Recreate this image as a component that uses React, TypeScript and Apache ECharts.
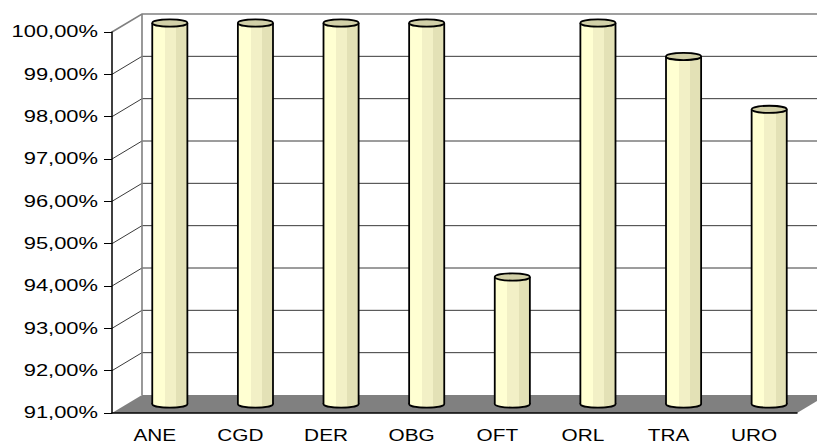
import React, { useEffect, useRef } from 'react';
import * as echarts from 'echarts';

// Specialty codes and their compliance rate (%)
const categories = ['ANE', 'CGD', 'DER', 'OBG', 'OFT', 'ORL', 'TRA', 'URO'];
const rates = [100, 100, 100, 100, 94.0, 100, 99.21, 97.96];
const yTicks = [91, 92, 93, 94, 95, 96, 97, 98, 99, 100];
const yMin = 91;
const yMax = 100;

// Pseudo-3D depth of the plot box (back wall offset from the front plane)
const DX = 30;
const DY = -18;

const FONT = '"Liberation Sans", Arial, sans-serif';
const fmt = (v: number) => v.toFixed(2).replace('.', ',') + '%';

const stripes = () =>
  new echarts.graphic.LinearGradient(0, 0, 1, 0, [
    { offset: 0, color: '#FFFFD2' },
    { offset: 0.36, color: '#FFFFD2' },
    { offset: 0.36, color: '#F2F0C6' },
    { offset: 0.68, color: '#F2F0C6' },
    { offset: 0.68, color: '#E3E1B6' },
    { offset: 1, color: '#E3E1B6' },
  ]);

export default function App() {
  const ref = useRef<HTMLDivElement>(null);

  useEffect(() => {
    const chart = echarts.init(ref.current!, null, { renderer: 'svg' });

    const option: any = {
      animation: false,
      grid: { left: 112, right: 20, top: 32, bottom: 31, containLabel: false },
      xAxis: {
        type: 'category',
        data: categories,
        z: 10,
        axisLine: { lineStyle: { color: '#000', width: 1.5 } },
        axisTick: { length: 6, lineStyle: { color: '#000', width: 1 } },
        axisLabel: { show: false },
        splitLine: { show: false },
      },
      yAxis: {
        type: 'value',
        min: yMin,
        max: yMax,
        interval: 1,
        z: 10,
        axisLine: { show: true, lineStyle: { color: '#000', width: 1.5 } },
        axisTick: { show: true, length: 8, lineStyle: { color: '#000', width: 1 } },
        axisLabel: { show: false },
        splitLine: { show: false },
      },
      series: [
        {
          // walls, floor and gridlines
          type: 'custom',
          z: 1,
          silent: true,
          data: [[0, yMin]],
          renderItem: (params: any, api: any) => {
            const cs = params.coordSys;
            const x0 = cs.x;
            const x1 = cs.x + cs.width;
            const yb = cs.y + cs.height;
            const children: any[] = [];
            yTicks.forEach((t) => {
              if (t === yMin) return;
              const y = api.coord([0, t])[1];
              const border = t === yMax;
              children.push({
                type: 'polyline',
                shape: { points: [[x0, y], [x0 + DX, y + DY], [x1 + DX, y + DY]] },
                style: { stroke: border ? '#808080' : '#3a3a3a', lineWidth: border ? 1.6 : 1, fill: null },
              });
            });
            children.push({
              type: 'line',
              shape: { x1: x0 + DX, y1: cs.y + DY, x2: x0 + DX, y2: yb + DY },
              style: { stroke: '#808080', lineWidth: 1.6 },
            });
            children.push({
              type: 'polygon',
              shape: { points: [[x0, yb], [x1, yb], [x1 + DX, yb + DY], [x0 + DX, yb + DY]] },
              style: { fill: '#808080' },
            });
            return { type: 'group', children };
          },
        },
        {
          // cylinders
          type: 'custom',
          z: 5,
          data: rates.map((v, i) => [i, v]),
          encode: { x: 0, y: 1 },
          renderItem: (params: any, api: any) => {
            const i = api.value(0);
            const v = api.value(1);
            const band = api.size([1, 0])[0];
            const c = api.coord([i, v]);
            const b = api.coord([i, yMin]);
            const cx = c[0] + DX / 2;
            const rx = band * 0.205;
            const ry = 3.6;
            const top = c[1] + DY / 2;
            const bot = b[1] + DY / 2;
            return {
              type: 'group',
              children: [
                {
                  type: 'ellipse',
                  shape: { cx, cy: bot, rx, ry },
                  style: { fill: stripes(), stroke: '#000', lineWidth: 1.8 },
                },
                {
                  type: 'rect',
                  shape: { x: cx - rx, y: top, width: rx * 2, height: bot - top },
                  style: { fill: stripes() },
                },
                {
                  type: 'line',
                  shape: { x1: cx - rx, y1: top, x2: cx - rx, y2: bot },
                  style: { stroke: '#000', lineWidth: 1.8 },
                },
                {
                  type: 'line',
                  shape: { x1: cx + rx, y1: top, x2: cx + rx, y2: bot },
                  style: { stroke: '#000', lineWidth: 1.8 },
                },
                {
                  type: 'ellipse',
                  shape: { cx, cy: top, rx, ry },
                  style: { fill: '#D2D0A8', stroke: '#000', lineWidth: 1.8 },
                },
              ],
            };
          },
        },
        {
          // value-axis tick labels
          type: 'custom',
          z: 11,
          silent: true,
          data: yTicks.map((t) => [0, t]),
          renderItem: (params: any, api: any) => {
            const cs = params.coordSys;
            const t = api.value(1);
            return {
              type: 'text',
              x: cs.x - 14,
              y: api.coord([0, t])[1],
              scaleX: 1.37,
              style: {
                text: fmt(t),
                fill: '#000',
                fontSize: 16,
                fontFamily: FONT,
                align: 'right',
                verticalAlign: 'middle',
              },
            };
          },
        },
        {
          // category labels
          type: 'custom',
          z: 11,
          silent: true,
          data: categories.map((_, i) => [i, yMin]),
          renderItem: (params: any, api: any) => {
            const cs = params.coordSys;
            const i = api.value(0);
            return {
              type: 'text',
              x: api.coord([i, yMin])[0],
              y: cs.y + cs.height + 22,
              scaleX: 1.3,
              style: {
                text: categories[i],
                fill: '#000',
                fontSize: 16,
                fontFamily: FONT,
                align: 'center',
                verticalAlign: 'middle',
              },
            };
          },
        },
      ],
    };

    chart.setOption(option);
    return () => chart.dispose();
  }, []);

  return (
    <div
      ref={ref}
      style={{ position: 'fixed', left: 0, top: 0, width: 817, height: 444, background: '#fff' }}
    />
  );
}
